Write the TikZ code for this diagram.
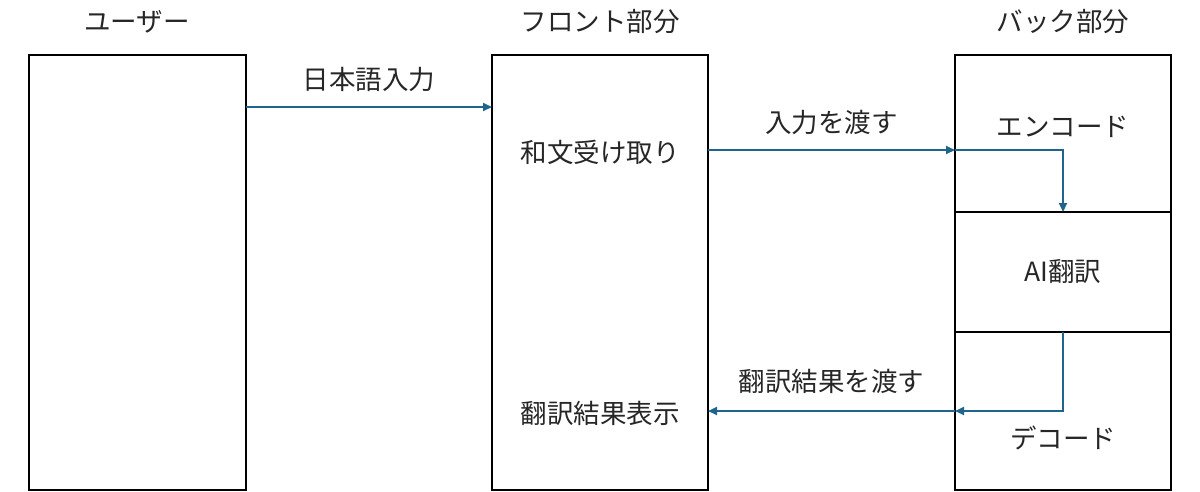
\documentclass[tikz,border=0pt]{standalone}
\usepackage{fontspec}
\setmainfont{Noto Sans CJK JP}
\usetikzlibrary{arrows.meta}
\definecolor{arr}{RGB}{31,100,140}
\begin{document}
\begin{tikzpicture}[x=1pt,y=-1pt,
  box/.style={draw=black,line width=2.5pt},
  lbl/.style={font=\fontsize{26.5}{31}\selectfont,inner sep=0pt,text=black!85},
  conn/.style={draw=arr,line width=2pt,-{Triangle[length=9pt,width=8pt]}}]
\useasboundingbox (0,0) rectangle (1200,491);
\draw[box] (29,55) rectangle (246,490);
\draw[box] (492,55) rectangle (708,490);
\draw[box] (955,55) rectangle (1171,490);
\draw[box] (955,212) -- (1171,212);
\draw[box] (955,332) -- (1171,332);
\node[lbl] (tu) at (137,22) {ユーザー};
\node[lbl] (tf) at (600,22) {フロント部分};
\node[lbl] (tb) at (1063,22) {バック部分};
\node[lbl] (recv) at (600,152) {和文受け取り};
\node[lbl] (disp) at (600,413) {翻訳結果表示};
\node[lbl] (enc) at (1063,127) {エンコード};
\node[lbl] (ai) at (1063,272) {AI翻訳};
\node[lbl] (dec) at (1063,438) {デコード};
\coordinate (uR) at (246,107);
\coordinate (fL) at (492,107);
\coordinate (fR1) at (708,150);
\coordinate (bL1) at (955,150);
\coordinate (encB) at (1063,212);
\coordinate (aiB) at (1063,332);
\coordinate (bL2) at (955,411);
\coordinate (fR2) at (708,411);
\draw[conn] (uR) -- node[lbl,above=14pt] {日本語入力} (fL);
\draw[conn] (fR1) -- node[lbl,above=14pt] {入力を渡す} (bL1);
\draw[conn] (bL1) -| (encB);
\draw[conn] (aiB) |- (bL2);
\draw[conn] (bL2) -- node[lbl,above=16pt] {翻訳結果を渡す} (fR2);
\end{tikzpicture}
\end{document}
